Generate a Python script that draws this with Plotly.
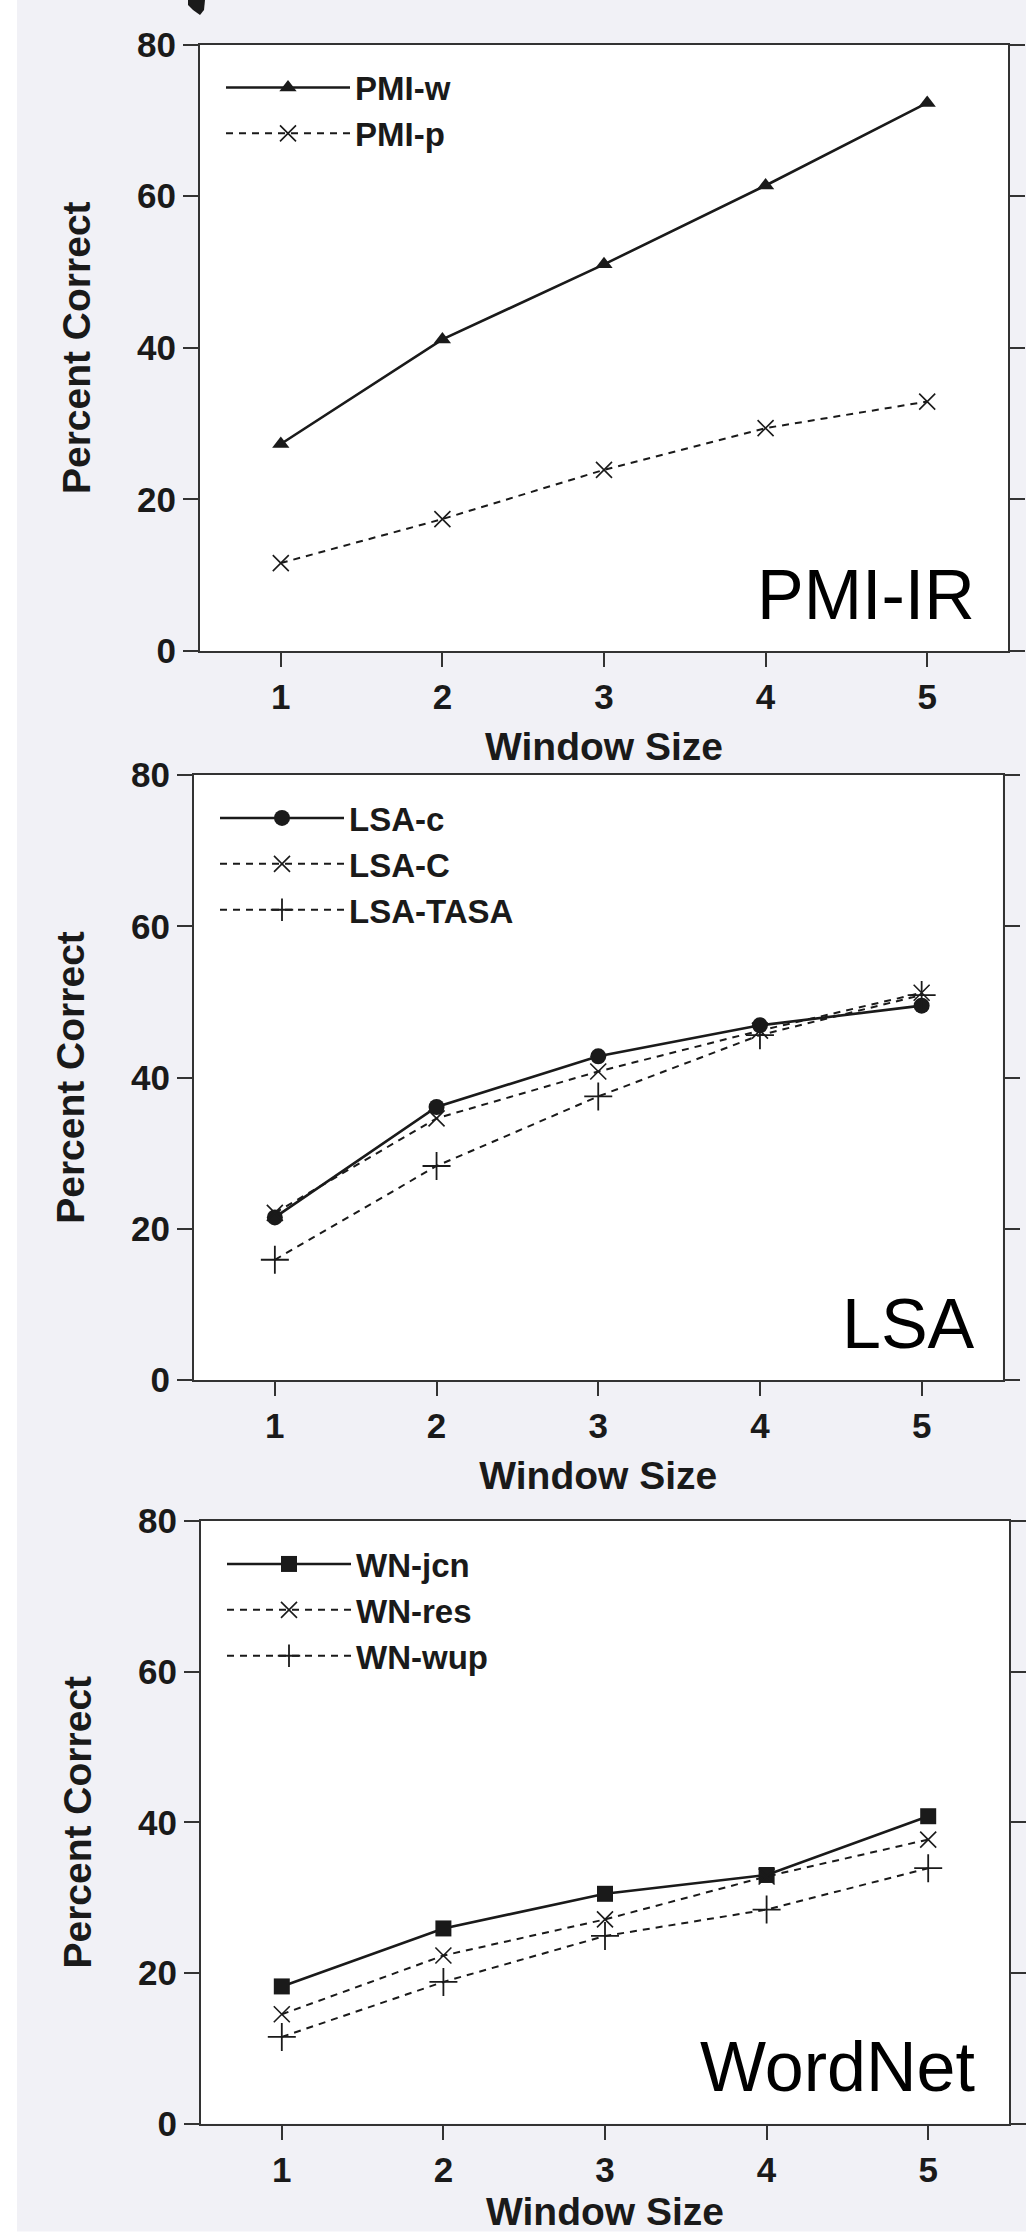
import plotly.graph_objects as go

window_sizes = [1, 2, 3, 4, 5]
y_ticks = [0, 20, 40, 60, 80]

pmi_w = [27.3, 41.1, 51.0, 61.4, 72.3]
pmi_p = [11.6, 17.4, 23.9, 29.4, 32.9]

lsa_c = [21.5, 36.1, 42.8, 46.9, 49.5]
lsa_C = [22.1, 34.6, 40.8, 46.2, 51.2]
lsa_tasa = [15.9, 28.3, 37.5, 45.6, 50.9]

wn_jcn = [18.2, 25.9, 30.5, 33.0, 40.8]
wn_res = [14.5, 22.3, 27.1, 32.8, 37.7]
wn_wup = [11.5, 18.8, 24.9, 28.4, 33.9]

panel_labels = ["PMI-IR", "LSA", "WordNet"]

W, H = 1026, 2233
FONT = "Liberation Sans, Arial, sans-serif"
INK = "#1a1a1a"
AX = "#333333"

fig = go.Figure()

SOLID = dict(color=INK, width=2.6)
DASH = dict(color=INK, width=2.0, dash="7px,6px")


def add(x, y, name, line, symbol, size, panel, lw=0):
    suffix = "" if panel == 1 else str(panel)
    fig.add_trace(go.Scatter(
        x=x, y=y, name=name, mode="lines+markers",
        line=line,
        marker=dict(symbol=symbol, size=size, color=INK,
                    line=dict(color=INK, width=lw)),
        xaxis="x" + suffix, yaxis="y" + suffix,
        legend="legend" + suffix,
    ))


add(window_sizes, pmi_w, "PMI-w", SOLID, "triangle-up", 15, 1)
add(window_sizes, pmi_p, "PMI-p", DASH, "x-thin-open", 16, 1, 1.6)

add(window_sizes, lsa_c, "LSA-c", SOLID, "circle", 16, 2)
add(window_sizes, lsa_C, "LSA-C", DASH, "x-thin-open", 16, 2, 1.6)
add(window_sizes, lsa_tasa, "LSA-TASA", DASH, "cross-thin-open", 20, 2, 1.8)

add(window_sizes, wn_jcn, "WN-jcn", SOLID, "square", 16, 3)
add(window_sizes, wn_res, "WN-res", DASH, "x-thin-open", 16, 3, 1.6)
add(window_sizes, wn_wup, "WN-wup", DASH, "cross-thin-open", 20, 3, 1.8)

# panel pixel boxes (left, right, top, bottom)
boxes = [
    (200, 1008, 44.5, 651),
    (194, 1002.5, 775, 1380),
    (201, 1009, 1521, 2123.5),
]

tick_font = dict(family=FONT, size=35, color=INK, weight="bold")
title_font = dict(family=FONT, size=39, color=INK, weight="bold")

layout = dict(
    width=W, height=H,
    margin=dict(l=0, r=0, t=0, b=0, autoexpand=False),
    paper_bgcolor="#f1f1f6",
    plot_bgcolor="white",
    font=dict(family=FONT, color=INK),
    annotations=[],
    shapes=[],
)

for i, (l, r, t, b) in enumerate(boxes, start=1):
    suffix = "" if i == 1 else str(i)
    xd = [l / W, r / W]
    yd = [1 - b / H, 1 - t / H]
    layout["xaxis" + suffix] = dict(
        domain=xd, range=[0.5, 5.5], tickvals=window_sizes,
        ticks="outside", ticklen=14, tickwidth=2, tickcolor=AX,
        showline=True, linecolor=AX, linewidth=2, mirror=True,
        showgrid=False, zeroline=False, tickfont=tick_font,
        title=dict(text="Window Size", font=title_font, standoff=18),
        anchor="y" + suffix, fixedrange=True,
    )
    layout["yaxis" + suffix] = dict(
        domain=yd, range=[0, 80], tickvals=y_ticks,
        ticks="outside", ticklen=15, tickwidth=2, tickcolor=AX,
        showline=True, linecolor=AX, linewidth=2, mirror="ticks",
        showgrid=False, zeroline=False, tickfont=tick_font,
        title=dict(text="Percent Correct", font=title_font, standoff=34),
        anchor="x" + suffix, fixedrange=True,
    )
    layout["legend" + suffix] = dict(
        x=(l + 21) / W, y=1 - (t + 15) / H, xanchor="left", yanchor="top",
        bgcolor="rgba(0,0,0,0)", borderwidth=0, itemwidth=124,
        font=dict(family=FONT, size=33, color=INK, weight="bold"),
        tracegroupgap=0,
    )
    layout["annotations"].append(dict(
        text=panel_labels[i - 1], xref="x" + suffix + " domain", yref="y" + suffix + " domain",
        x=(977 - l) / (r - l), y=0.025, xanchor="right", yanchor="bottom",
        showarrow=False, font=dict(family=FONT, size=70, color="black"),
    ))

# white strip on left edge and at bottom edge of the scanned figure
layout["shapes"].append(dict(type="rect", xref="paper", yref="paper",
                             x0=0, x1=17 / W, y0=0, y1=1,
                             fillcolor="white", line=dict(width=0), layer="below"))
layout["shapes"].append(dict(type="rect", xref="paper", yref="paper",
                             x0=0, x1=1, y0=0, y1=1.5 / H,
                             fillcolor="white", line=dict(width=0), layer="below"))
# fragment of a glyph cut off at the top edge
layout["shapes"].append(dict(type="path", xref="paper", yref="paper",
                             path=f"M {188/W},{1} L {205/W},{1} L {204/W},{1-10/H} "
                                  f"L {200/W},{1-15/H} L {193/W},{1-10/H} L {188/W},{1-5/H} Z",
                             fillcolor=INK, line=dict(width=0)))

fig.update_layout(**layout)
fig.write_html("out.html",
               config={"displayModeBar": False},
               post_script="document.body.style.margin='0';document.body.style.padding='0';")
